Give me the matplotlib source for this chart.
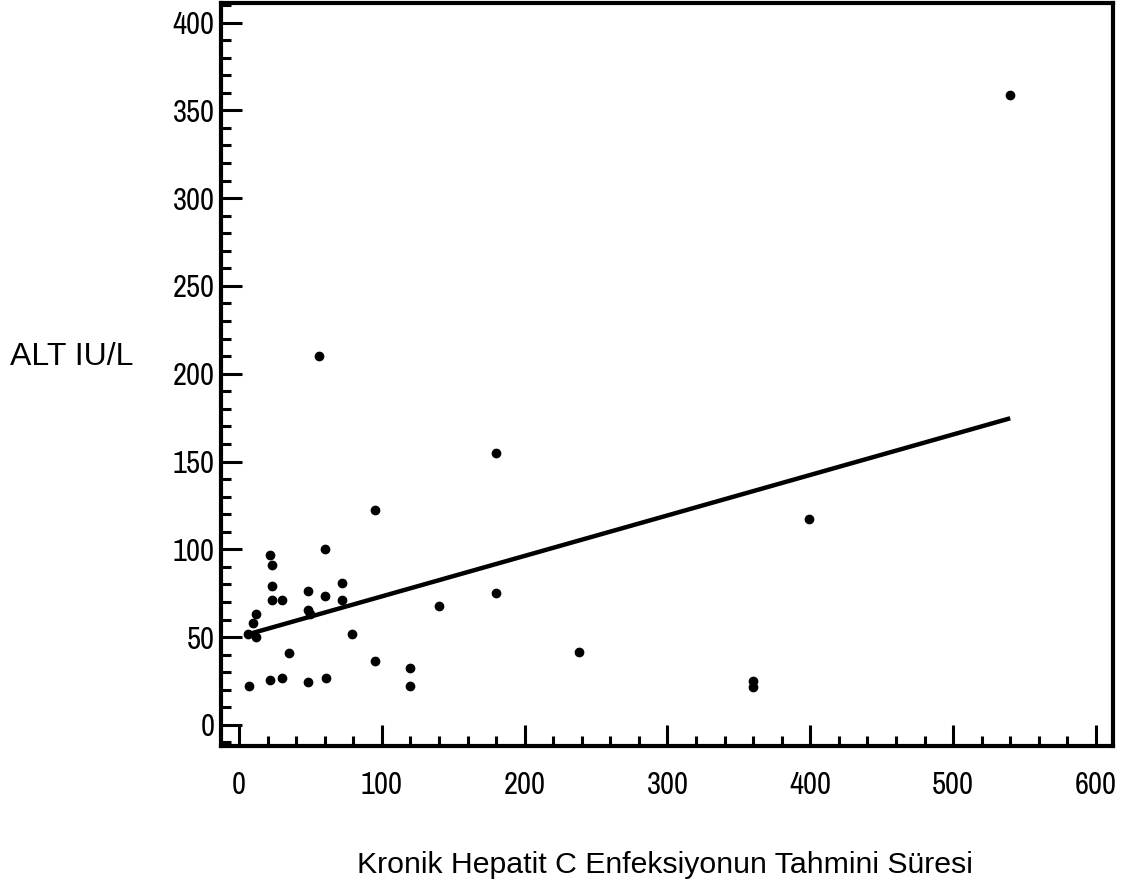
import numpy as np
import matplotlib.pyplot as plt
from matplotlib.ticker import MultipleLocator

# estimated duration of infection vs ALT
sure = [6, 10, 12, 12, 7, 22, 23, 23, 23, 30, 35, 22, 30, 48, 48, 50, 48,
        60, 60, 61, 72, 72, 79, 95, 95, 120, 120, 140, 180, 180, 238,
        360, 360, 399, 540, 56]
alt = [52, 58, 63, 50, 22, 97, 91, 79, 71, 71, 41, 25.5, 27, 76, 65.5, 63,
       24.5, 100, 73.5, 26.8, 81, 71, 52, 36.5, 122.5, 32.5, 22, 68, 75, 155,
       41.6, 25, 21.7, 117.5, 359, 210]

x_ticks = [0, 100, 200, 300, 400, 500, 600]
y_ticks = [0, 50, 100, 150, 200, 250, 300, 350, 400]

x = np.array(sure)
y = np.array(alt)
b, a = np.polyfit(x, y, 1)
fx = np.array([x.min(), x.max()])

fig = plt.figure(figsize=(11.22, 8.96), dpi=100)
ax = fig.add_axes([0.197, 0.1674, 0.795, 0.829])

ax.plot(x, y, 'o', color='black', ms=6, zorder=3)
ax.plot(fx, a + b * fx, color='black', lw=3.2, solid_capstyle='butt')

ax.set_xlim(-12.6, 612)
ax.set_ylim(-12, 411)
ax.set_xticks(x_ticks)
ax.set_yticks(y_ticks)
ax.xaxis.set_minor_locator(MultipleLocator(20))
ax.yaxis.set_minor_locator(MultipleLocator(10))

for s in ax.spines.values():
    s.set_linewidth(3)

tick_font = ['Archivo Narrow', 'Liberation Sans']
ax.tick_params(which='major', direction='in', width=2.2, length=15)
ax.tick_params(which='minor', direction='in', width=2.2, length=7.5)
ax.tick_params(axis='x', which='major', pad=18)
ax.tick_params(axis='y', which='major', pad=4.5)
for lab in ax.get_xticklabels() + ax.get_yticklabels():
    lab.set_fontfamily(tick_font)
    lab.set_fontsize(22)

fig.text(0.064, 0.602, 'ALT IU/L', fontfamily='Liberation Sans', fontsize=23,
         ha='center', va='center')
fig.text(0.593, 0.035, 'Kronik Hepatit C Enfeksiyonun Tahmini Süresi',
         fontfamily='Liberation Sans', fontsize=21.8, ha='center', va='center')

fig.savefig('out.png', dpi=100)
